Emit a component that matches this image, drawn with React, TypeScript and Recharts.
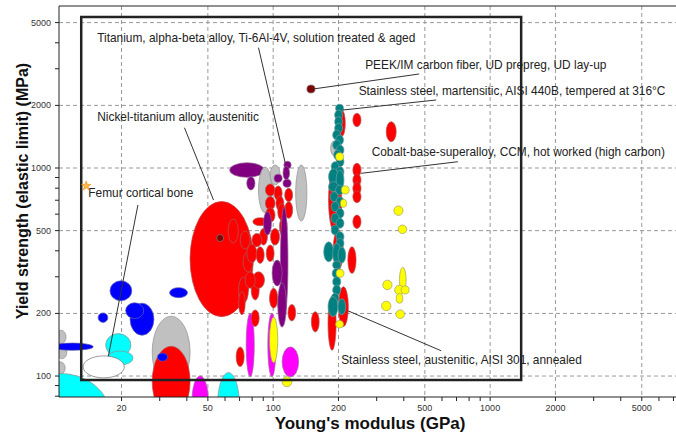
import React from "react";
import {
  ComposedChart, XAxis, YAxis, ZAxis, CartesianGrid, ReferenceArea, ReferenceLine,
  ReferenceDot, Scatter,
} from "recharts";

// Axis ticks
const xMajor = [20, 50, 100, 200, 500, 1000, 2000, 5000];
const xMinor = [30, 40, 60, 70, 80, 90, 300, 400, 600, 700, 800, 900, 3000, 4000, 6000, 7000];
const yMajor = [100, 200, 500, 1000, 2000, 5000];
const yMinor = [80, 90, 300, 400, 600, 700, 800, 900, 3000, 4000];
const xDomain = [10.3, 7190];
const yDomain = [79.3, 6009];

// Material bubbles: [E low, E high, yield low, yield high]
const grayEdge = [[10, 11.1, 143, 166], [10.1, 11.2, 121, 141], [9.9, 11.0, 102, 117]];
const cyanBig = [[6.1, 17.7, 40.8, 103]];
const blueThin = [[9.5, 14.8, 133, 144]];
const cyanFoam = [[16.9, 22.1, 124, 160], [17.2, 22.6, 113, 132]];
const boneWhite = [[13.3, 20.6, 98, 125]];
const blueGroup = [[17.7, 22.3, 230, 287], [15.6, 17.3, 181, 201], [21.9, 28.2, 157, 224], [20.9, 25.3, 189, 225], [33.3, 40.3, 238, 266]];
const grayMid = [[27.7, 41.4, 87.6, 194]];
const redLow = [[27.7, 41.4, 64, 139]];
const blueSmall = [[29.3, 32.6, 118, 129]];
const magentaLow = [[42.3, 50.2, 58.8, 100]];
const cyanLow = [[55.4, 69.9, 50.3, 104]];
const redNiTi = [[41.4, 80.9, 193, 690]];
const redOnNiTi = [[62.0, 69.0, 436, 569], [70.5, 78.3, 408, 498], [72.7, 80.9, 316, 395]];
const maroonDot = [[54.9, 59.1, 443, 479]];
const purpleTop = [[63, 90.9, 902, 1060], [75.6, 82.4, 784, 909]];
const grayTi = [[85.6, 98.6, 608, 1011], [96.9, 107.7, 828, 1034], [127, 143, 556, 1034]];
const magentaMid = [[75.1, 81.8, 99.2, 200], [94.5, 103, 99.2, 200]];
const yellowMid = [[96.2, 105, 116, 192]];
const magentaRound = [[110, 131, 99.2, 138]];
const yellowLow = [[110, 122, 88.8, 99.2]];
const redCluster = [
  [92.1, 102, 733, 838], [101, 110, 697, 820], [92.1, 102, 628, 729], [103, 112, 624, 733],
  [113, 123, 689, 799], [113, 123, 573, 689], [105, 114, 562, 676], [92.1, 102, 548, 644],
  [80.6, 94.1, 528, 577], [107, 116, 467, 583], [97.2, 107, 426, 512], [86.5, 94.1, 426, 512],
  [79.8, 88.7, 418, 485], [75.6, 84.1, 351, 431], [83.5, 90.9, 348, 418], [92.9, 101, 355, 426],
  [69.2, 76.9, 224, 299], [79.2, 86.2, 232, 289], [80.3, 91.2, 264, 317], [74.3, 82.6, 264, 317],
  [69.3, 74.3, 197, 255], [79.2, 86.2, 173, 208], [96.2, 105, 212, 264], [105, 114, 204, 245],
  [117, 127, 184, 221], [150, 163, 163, 204], [67.5, 73.5, 111, 138],
];
const purpleTi = [
  [112, 121, 992, 1077], [111, 119, 878, 1019], [111, 121, 808, 882], [101, 110, 854, 933],
  [90.2, 98.2, 476, 617], [108, 117, 192, 649], [98.9, 110, 271, 361], [105, 115, 172, 280],
];
const redSteelBack = [[180, 207, 487, 1011], [200, 215, 1420, 1894], [179, 195, 133, 242], [200, 222, 173, 269], [189, 210, 323, 503]];
const redSteelRight = [
  [233, 254, 1580, 1832], [332, 369, 1338, 1670], [233, 254, 908, 1054], [233, 254, 820, 936],
  [233, 254, 747, 854], [233, 254, 681, 778], [233, 254, 512, 594], [221, 241, 312, 418],
];
const graySteel = [[184, 196, 1151, 1344]];
const tealSteel = [
  [194, 211, 1853, 2025], [192, 209, 1701, 1900], [192, 209, 1580, 1764], [192, 209, 1469, 1640],
  [188, 205, 1363, 1523], [194, 211, 1290, 1441], [188, 205, 1220, 1363], [195, 212, 1155, 1290],
  [190, 206, 1093, 1220], [195, 212, 1015, 1133], [185, 201, 960, 1072], [195, 212, 908, 1015],
  [180, 200, 831, 992], [195, 212, 784, 978], [180, 200, 769, 859], [194, 211, 742, 828],
  [183, 199, 689, 769], [195, 212, 651, 728], [185, 201, 617, 689], [195, 212, 573, 640],
  [185, 201, 542, 606], [195, 212, 513, 573], [185, 201, 476, 532], [195, 212, 442, 494],
  [195, 212, 411, 459], [171, 190, 354, 442], [188, 205, 348, 435], [199, 216, 349, 417],
  [188, 205, 327, 357], [187, 204, 295, 329], [188, 205, 269, 300], [188, 205, 245, 274],
  [185, 201, 224, 250], [179, 199, 193, 241], [199, 216, 197, 235],
];
const yellowSteel = [[194, 211, 1084, 1185], [206, 224, 750, 820], [204, 218, 647, 707], [195, 212, 298, 326], [194, 211, 170, 185]];
const yellowRight = [
  [360, 397, 592, 657], [377, 413, 484, 532], [320, 353, 260, 289], [316, 349, 206, 229],
  [368, 403, 189, 208], [382, 410, 252, 333], [363, 402, 246, 273], [389, 423, 248, 271],
  [369, 396, 224, 249],
];
const peekDot = [[143, 156, 2293, 2506]];

const femurStar = [{ E: 13.75, S: 820 }];

// selection frame [E low, E high, yield low, yield high]
const frame = [13.04, 1390, 95.7, 5321];

// annotations: text, text anchor (E, yield), leader line from / to
const notes = [
  { text: "Titanium, alpha-beta alloy, Ti-6Al-4V, solution treated & aged", at: [15.45, 4035], from: [85.6, 3787], to: [113.6, 1060] },
  { text: "PEEK/IM carbon fiber, UD prepreg, UD lay-up", at: [265.5, 2992], from: [470.9, 2831], to: [152.9, 2398] },
  { text: "Stainless steel, martensitic, AISI 440B, tempered at 316°C", at: [247.7, 2232], from: [563.9, 2123], to: [209.5, 1900] },
  { text: "Nickel-titanium alloy, austenitic", at: [15.45, 1692], from: [39.0, 1562], to: [53.1, 702] },
  { text: "Cobalt-base-superalloy, CCM, hot worked (high carbon)", at: [284.4, 1148], from: [710, 1072], to: [254.4, 943] },
  { text: "Femur cortical bone", at: [14.05, 725], from: [23.8, 664], to: [17.4, 124.8] },
  { text: "Stainless steel, austenitic, AISI 301, annealed", at: [205.8, 114.8], from: [594.6, 132.3], to: [220.9, 206] },
];

const RED = "#FF0000", TEAL = "#008080", PURPLE = "#800080", GRAY = "#C0C0C0", BLUE = "#0000FF",
  CYAN = "#00FFFF", MAGENTA = "#FF00FF", YELLOW = "#FFFF00", MAROON = "#800000", WHITE = "#FFFFFF";

const layers: { items: number[][]; fill: string; stroke: string }[] = [
  { items: grayEdge, fill: GRAY, stroke: "#909090" },
  { items: cyanBig, fill: CYAN, stroke: "#909090" },
  { items: blueThin, fill: BLUE, stroke: "#5050a0" },
  { items: cyanFoam, fill: CYAN, stroke: "#909090" },
  { items: boneWhite, fill: WHITE, stroke: "#707070" },
  { items: blueGroup, fill: BLUE, stroke: "#6060b0" },
  { items: grayMid, fill: GRAY, stroke: "#909090" },
  { items: redLow, fill: RED, stroke: "#b05050" },
  { items: blueSmall, fill: BLUE, stroke: "#6060b0" },
  { items: magentaLow, fill: MAGENTA, stroke: "#a060a0" },
  { items: cyanLow, fill: CYAN, stroke: "#909090" },
  { items: redNiTi, fill: RED, stroke: "#c04040" },
  { items: redOnNiTi, fill: RED, stroke: "#a06060" },
  { items: maroonDot, fill: MAROON, stroke: "#808080" },
  { items: purpleTop, fill: PURPLE, stroke: "#906090" },
  { items: grayTi, fill: GRAY, stroke: "#909090" },
  { items: magentaMid, fill: MAGENTA, stroke: "#a060a0" },
  { items: yellowMid, fill: YELLOW, stroke: "#a0a060" },
  { items: magentaRound, fill: MAGENTA, stroke: "#a060a0" },
  { items: yellowLow, fill: YELLOW, stroke: "#a0a060" },
  { items: redCluster, fill: RED, stroke: "#a06060" },
  { items: purpleTi, fill: PURPLE, stroke: "#906090" },
  { items: redSteelBack, fill: RED, stroke: "#b05050" },
  { items: redSteelRight, fill: RED, stroke: "#b05050" },
  { items: graySteel, fill: GRAY, stroke: "#909090" },
  { items: tealSteel, fill: TEAL, stroke: "#70a0a0" },
  { items: yellowSteel, fill: YELLOW, stroke: "#a0a060" },
  { items: yellowRight, fill: YELLOW, stroke: "#a0a060" },
  { items: peekDot, fill: MAROON, stroke: "#808080" },
];

const FONT = "Arial, 'Liberation Sans', sans-serif";

const ellipseShape = (fill: string, stroke: string) => (p: any) => {
  const { x, y, width, height, clipPath } = p;
  return (
    <ellipse
      cx={x + width / 2}
      cy={y + height / 2}
      rx={Math.abs(width) / 2}
      ry={Math.abs(height) / 2}
      fill={fill}
      stroke={stroke}
      strokeWidth={0.7}
      clipPath={clipPath}
    />
  );
};

const frameShape = (p: any) => (
  <rect x={p.x} y={p.y} width={p.width} height={p.height} fill="none" stroke="#222" strokeWidth={2.5} />
);

const textShape = (label: string) => (p: any) => (
  <text x={p.cx} y={p.cy} fontFamily={FONT} fontSize={11.9} fill="#222">
    {label}
  </text>
);

const XTick = (p: any) => {
  const v = p.payload.value;
  if (!xMajor.includes(v)) return null;
  return (
    <text x={p.x} y={p.y} dy={8} textAnchor="middle" fontFamily={FONT} fontSize={9} fill="#333">
      {v}
    </text>
  );
};

const YTick = (p: any) => {
  const v = p.payload.value;
  if (!yMajor.includes(v)) return null;
  return (
    <text x={p.x} y={p.y} dx={-2} dy={3} textAnchor="end" fontFamily={FONT} fontSize={9} fill="#333">
      {v}
    </text>
  );
};

export default function App() {
  return (
    <div style={{ position: "absolute", left: 0, top: 0, width: 676, height: 434, background: "#fff" }}>
      <ComposedChart width={676} height={434} margin={{ top: 6, right: 0, bottom: 0, left: 0 }}>
        <CartesianGrid
          horizontalValues={yMajor}
          verticalValues={xMajor}
          stroke="#999"
          strokeDasharray="4 3"
        />
        <XAxis
          type="number"
          dataKey="E"
          scale="log"
          domain={xDomain}
          allowDataOverflow
          ticks={[...xMajor, ...xMinor]}
          interval={0}
          tick={<XTick />}
          tickSize={4}
          height={37}
          stroke="#222"
        />
        <YAxis
          type="number"
          dataKey="S"
          scale="log"
          domain={yDomain}
          allowDataOverflow
          ticks={[...yMajor, ...yMinor]}
          interval={0}
          tick={<YTick />}
          tickSize={4}
          width={59}
          stroke="#222"
        />
        <ZAxis range={[28, 28]} />
        {layers.map((layer, li) =>
          layer.items.map((d, i) => (
            <ReferenceArea
              key={`a-${li}-${i}`}
              x1={d[0]}
              x2={d[1]}
              y1={d[2]}
              y2={d[3]}
              ifOverflow="hidden"
              shape={ellipseShape(layer.fill, layer.stroke)}
            />
          ))
        )}
        <ReferenceArea
          x1={frame[0]}
          x2={frame[1]}
          y1={frame[2]}
          y2={frame[3]}
          ifOverflow="visible"
          shape={frameShape}
        />
        <ReferenceLine y={yDomain[1]} stroke="#222" strokeWidth={1} ifOverflow="visible" />
        {notes.map((n, i) => (
          <ReferenceLine
            key={`l-${i}`}
            segment={[{ x: n.from[0], y: n.from[1] }, { x: n.to[0], y: n.to[1] }]}
            stroke="#333"
            strokeWidth={1}
            ifOverflow="visible"
          />
        ))}
        {notes.map((n, i) => (
          <ReferenceDot
            key={`t-${i}`}
            x={n.at[0]}
            y={n.at[1]}
            r={0}
            ifOverflow="visible"
            shape={textShape(n.text)}
          />
        ))}
        <Scatter
          data={femurStar}
          dataKey="S"
          shape="star"
          fill="#FFB84D"
          stroke="#E08A00"
          strokeWidth={0.6}
          isAnimationActive={false}
        />
      </ComposedChart>
      <svg width={676} height={434} style={{ position: "absolute", left: 0, top: 0, pointerEvents: "none" }}>
        <text
          x={370}
          y={429}
          textAnchor="middle"
          fontFamily={FONT}
          fontWeight="bold"
          fontSize={17}
          fill="#111"
        >
          Young's modulus (GPa)
        </text>
        <text
          transform="translate(28,191) rotate(-90)"
          textAnchor="middle"
          fontFamily={FONT}
          fontWeight="bold"
          fontSize={16}
          fill="#111"
        >
          Yield strength (elastic limit) (MPa)
        </text>
      </svg>
    </div>
  );
}
